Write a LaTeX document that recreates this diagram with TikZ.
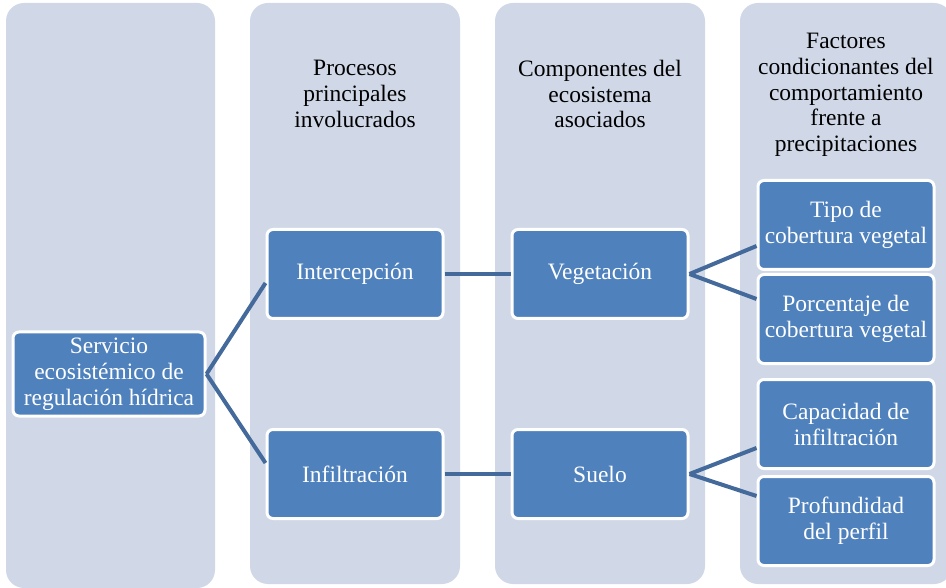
\documentclass[tikz,border=0pt]{standalone}
\usepackage{fontspec}
\setmainfont{Liberation Serif}
\definecolor{colbg}{HTML}{D0D8E8}
\definecolor{boxfill}{HTML}{4F81BD}
\definecolor{linkc}{HTML}{44699B}
\begin{document}
\begin{tikzpicture}[x=1pt,y=-1pt,
  colbox/.style={fill=colbg,draw=none,rounded corners=18pt},
  item/.style={rectangle,fill=boxfill,draw=white,line width=3pt,rounded corners=6pt,
    text=white,align=center,font=\fontsize{23.5}{26}\selectfont,inner sep=0pt},
  head/.style={align=center,font=\fontsize{23.5}{25.8}\selectfont,text=black},
  link/.style={draw=linkc,line width=4pt}]
\useasboundingbox (0,0) rectangle (946,588);
\fill[colbox] (6,3) rectangle (215,588);
\fill[colbox] (250,3) rectangle (460,584);
\fill[colbox] (495,3) rectangle (705,584);
\fill[colbox] (740,3) rectangle (952,584);

\node[head] (h2) at (355,94) {Procesos\\principales\\involucrados};
\node[head] (h3) at (600,94) {Componentes del\\ecosistema\\asociados};
\node[head] (h4) at (846,95) {Factores\\condicionantes del\\comportamiento\\frente a\\precipitaciones};

\node[item,minimum width=192pt,minimum height=84pt] (srv) at (109,374) {Servicio\\ecosistémico de\\regulación hídrica};
\node[item,minimum width=176pt,minimum height=89pt] (int) at (355,274) {Intercepción};
\node[item,minimum width=176pt,minimum height=89pt] (inf) at (355,474) {Infiltración};
\node[item,minimum width=176pt,minimum height=89pt] (veg) at (600,274) {Vegetación};
\node[item,minimum width=176pt,minimum height=89pt] (sue) at (600,474) {Suelo};
\node[item,minimum width=176pt,minimum height=89pt] (tip) at (846,225) {Tipo de\\cobertura vegetal};
\node[item,minimum width=176pt,minimum height=89pt] (por) at (846,319) {Porcentaje de\\cobertura vegetal};
\node[item,minimum width=176pt,minimum height=89pt] (cap) at (846,424) {Capacidad de\\infiltración};
\node[item,minimum width=176pt,minimum height=89pt] (pro) at (846,521) {Profundidad\\del perfil};

\draw[link] (srv.east) -- ([yshift=-9pt]int.west);
\draw[link] (srv.east) -- ([yshift=11pt]inf.west);
\draw[link] (int.east) -- (veg.west);
\draw[link] (inf.east) -- (sue.west);
\draw[link] (veg.east) -- ([yshift=-21pt]tip.west);
\draw[link] (veg.east) -- ([yshift=20pt]por.west);
\draw[link] (sue.east) -- ([yshift=-24pt]cap.west);
\draw[link] (sue.east) -- ([yshift=25pt]pro.west);
\end{tikzpicture}
\end{document}
